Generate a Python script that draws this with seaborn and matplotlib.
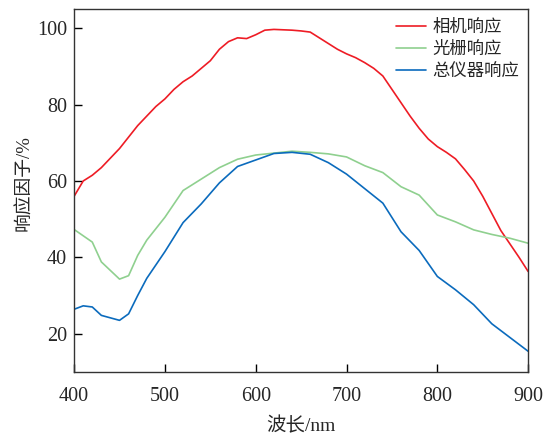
import pandas as pd
import matplotlib
matplotlib.use("Agg")
import matplotlib.pyplot as plt
import seaborn as sns

# wavelength grids and responses
camera_wl = list(range(400, 901, 10))
camera_resp = [56, 60, 61.5, 63.5, 66, 68.5, 71.5, 74.5, 77, 79.5,
               81.5, 84, 86, 87.5, 89.5, 91.5, 94.5, 96.5, 97.5, 97.3,
               98.3, 99.5, 99.7, 99.6, 99.5, 99.3, 99.0, 97.5, 96, 94.5,
               93.3, 92.3, 91, 89.5, 87.5, 84, 80.5, 77, 73.8, 71,
               69, 67.5, 65.8, 63, 60, 56, 51.5, 47, 43.5, 40, 36.3]

grating_wl = [400, 420, 430, 450, 460, 470, 480, 500, 520, 540, 560, 580, 600,
              620, 640, 660, 680, 700, 720, 740, 760, 780, 800, 820, 840, 860,
              880, 900]
grating_resp = [47.3, 44, 38.8, 34.3, 35.2, 40.5, 44.5, 50.5, 57.5, 60.5, 63.5,
                65.7, 66.8, 67.3, 67.8, 67.5, 67.1, 66.3, 64, 62.2, 58.5, 56.3,
                51.1, 49.3, 47.2, 46, 45, 43.7]

total_wl = [400, 410, 420, 430, 450, 460, 470, 480, 500, 520, 540, 560, 580,
            600, 620, 640, 660, 680, 700, 720, 740, 760, 780, 800, 820, 840,
            860, 880, 900]
total_resp = [26.4, 27.3, 27.0, 24.8, 23.5, 25.2, 30, 34.5, 41.5, 49.1, 54,
              59.5, 63.8, 65.5, 67.2, 67.5, 67.0, 64.8, 61.8, 58, 54.2, 46.7,
              41.8, 35, 31.5, 27.6, 22.6, 19, 15.4]

labels = ["相机响应", "光栅响应", "总仪器响应"]
colors = ["#ee1c25", "#8fd08f", "#0b6bbd"]

sns.set_style("ticks")
plt.rcParams['font.family'] = ['Liberation Serif', 'Noto Sans CJK SC']
plt.rcParams['xtick.direction'] = 'in'
plt.rcParams['ytick.direction'] = 'in'

fig = plt.figure(figsize=(5.49, 4.37), dpi=100)
ax = fig.add_axes([0.135, 0.149, 0.827, 0.830])

series = [(camera_wl, camera_resp), (grating_wl, grating_resp), (total_wl, total_resp)]
for (wl, resp), lab, col in zip(series, labels, colors):
    df = pd.DataFrame({"wl": wl, "resp": resp})
    sns.lineplot(data=df, x="wl", y="resp", color=col, linewidth=1.2, label=lab, ax=ax)

ax.set_xlim(400, 900)
ax.set_ylim(10, 105)
ax.set_xticks([400, 500, 600, 700, 800, 900])
ax.set_yticks([20, 40, 60, 80, 100])
ax.tick_params(labelsize=14.5, length=6, width=1, color="black", top=False, right=False)
ax.tick_params(axis="x", pad=11)
ax.tick_params(axis="y", pad=5)
ax.set_xlabel("波长/nm", fontsize=14, labelpad=7.5)
ax.set_ylabel("响应因子/%", fontsize=13.5)
ax.yaxis.set_label_coords(-0.09, 0.52)
for sp in ax.spines.values():
    sp.set_linewidth(1.0)
    sp.set_color("#333333")

leg = ax.legend(loc="upper right", frameon=False, fontsize=12.5, handlelength=1.7,
                handletextpad=0.4, labelspacing=0.25, borderaxespad=0.3, borderpad=0.2)
for t in leg.get_texts():
    t.set_family(['Noto Sans CJK SC'])
for ln in leg.get_lines():
    ln.set_linewidth(1.2)

fig.savefig("out.png", dpi=100)
